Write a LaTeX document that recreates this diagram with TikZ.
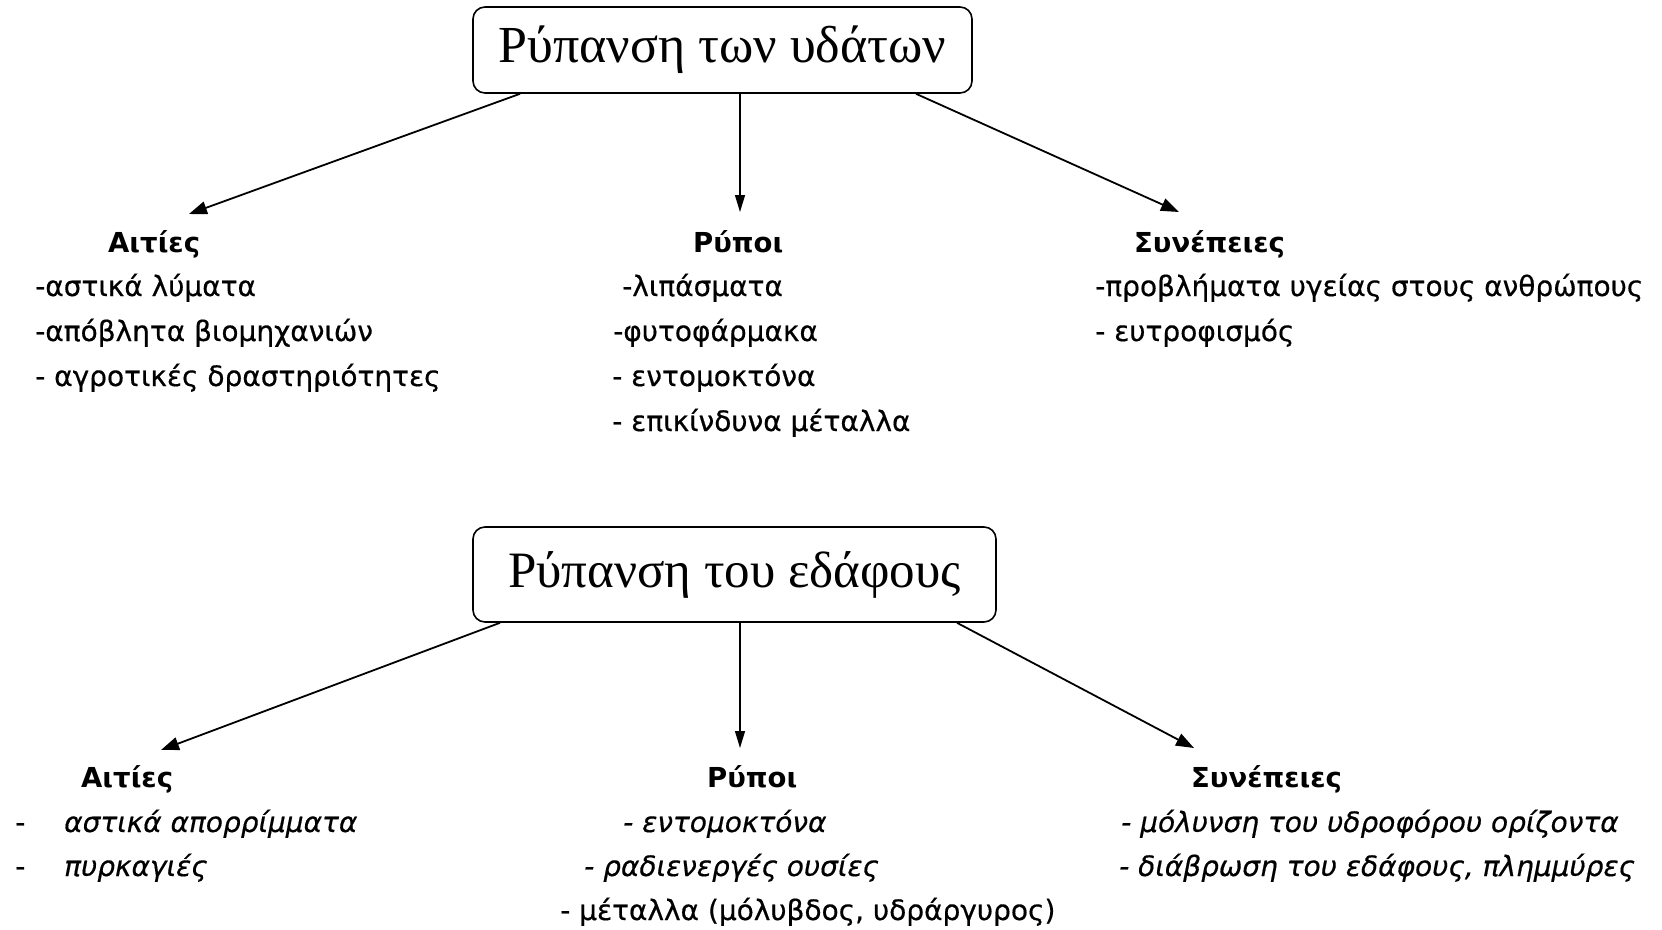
\documentclass[tikz,border=0pt]{standalone}
\usepackage{fontspec}
\setmainfont{Liberation Serif}
\newfontfamily\lblfont[UprightFeatures={FakeBold=0.5},ItalicFeatures={FakeBold=0.5}]{DejaVu Sans}
\usetikzlibrary{arrows.meta,calc}

\tikzset{
  titlebox/.style={draw, line width=1.6pt, rounded corners=12pt, inner sep=0pt,
    font=\fontsize{52}{60}\selectfont},
  head/.style={anchor=base west, inner sep=0pt, font=\lblfont\bfseries\fontsize{27.5}{32}\selectfont},
  item/.style={anchor=base west, inner sep=0pt, font=\lblfont\fontsize{28}{32}\selectfont},
  itemit/.style={anchor=base west, inner sep=0pt, font=\lblfont\itshape\fontsize{28}{32}\selectfont},
  link/.style={line width=1.8pt, -{Triangle[length=18pt,width=13pt]}},
  vlink/.style={line width=1.3pt, -{Triangle[length=17pt,width=10pt]}}
}

\begin{document}
\begin{tikzpicture}[x=1pt,y=-1pt]
\useasboundingbox (0,0) rectangle (1662,929);

% ---------- water pollution ----------
\node[titlebox, minimum width=499pt, minimum height=86pt] (water) at (722.5,50) {\raisebox{-4pt}{Ρύπανση των υδάτων}};

\coordinate (wA) at (189,214);
\coordinate (wR) at (740,212);
\coordinate (wS) at (1179,212);
\draw[link]  ([xshift=-202.5pt]water.south) -- (wA);
\draw[vlink] ([xshift=17.5pt]water.south) -- (wR);
\draw[link]  ([xshift=193.5pt]water.south) -- (wS);

\node[head] (wAh) at (108,252) {Αιτίες};
\node[item] (wA1) at (35,296) {-αστικά λύματα};
\node[item] (wA2) at (35,341) {-απόβλητα βιομηχανιών};
\node[item] (wA3) at (35,386) {- αγροτικές δραστηριότητες};

\node[head] (wRh) at (693,252) {Ρύποι};
\node[item] (wR1) at (622,296) {-λιπάσματα};
\node[item] (wR2) at (613,341) {-φυτοφάρμακα};
\node[item] (wR3) at (612,386) {- εντομοκτόνα};
\node[item] (wR4) at (612,431) {- επικίνδυνα μέταλλα};

\node[head] (wSh) at (1134,252) {Συνέπειες};
\node[item] (wS1) at (1095,296) {-προβλήματα υγείας στους ανθρώπους};
\node[item] (wS2) at (1095,341) {- ευτροφισμός};

% ---------- soil pollution ----------
\node[titlebox, minimum width=523pt, minimum height=95pt] (soil) at (734.5,574.5) {\fontsize{51}{60}\selectfont\raisebox{-3pt}{Ρύπανση του εδάφους}};

\coordinate (sA) at (161,750);
\coordinate (sR) at (740,748);
\coordinate (sS) at (1194,748);
\draw[link]  ([xshift=-234.5pt]soil.south) -- (sA);
\draw[vlink] ([xshift=5.5pt]soil.south) -- (sR);
\draw[link]  ([xshift=222.5pt]soil.south) -- (sS);

\node[head] (sAh) at (81,787) {Αιτίες};
\node[item] (sA1d) at (15,832) {-};
\node[itemit] (sA1) at (64,832) {αστικά απορρίμματα};
\node[item] (sA2d) at (15,876) {-};
\node[itemit] (sA2) at (64,876) {πυρκαγιές};

\node[head] (sRh) at (707,787) {Ρύποι};
\node[itemit] (sR1) at (623,832) {- εντομοκτόνα};
\node[itemit] (sR2) at (584,876) {- ραδιενεργές ουσίες};
\node[item] (sR3) at (560,920) {- μέταλλα (μόλυβδος, υδράργυρος)};

\node[head] (sSh) at (1191,787) {Συνέπειες};
\node[itemit] (sS1) at (1121,832) {- μόλυνση του υδροφόρου ορίζοντα};
\node[itemit] (sS2) at (1119,876) {- διάβρωση του εδάφους, πλημμύρες};
\end{tikzpicture}
\end{document}
